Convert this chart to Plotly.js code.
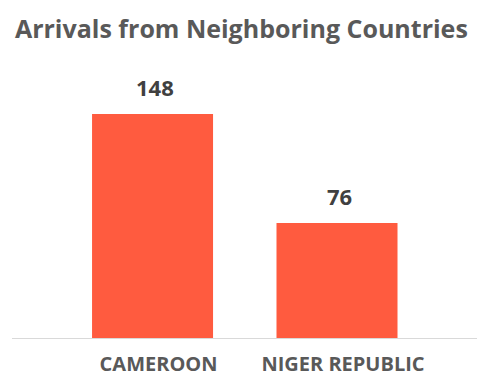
<!DOCTYPE html>
<html>
<head>
<meta charset="utf-8">
<script src="https://cdn.plot.ly/plotly-3.0.1.min.js"></script>
<style>html,body{margin:0;padding:0;background:#fff;}#chart{width:477px;height:379px;}</style>
</head>
<body>
<div id="chart"></div>
<script>
const categories = ["CAMEROON", "NIGER REPUBLIC"];
const arrivals = [148, 76];
const chartTitle = "Arrivals from Neighboring Countries";

const FONT = "'Open Sans', Lato, sans-serif";

const trace = {
  type: "bar",
  x: categories,
  y: arrivals,
  width: 0.656,
  marker: {color: "#FF5B3F"},
  hoverinfo: "x+y"
};

const annotations = categories.map((c, i) => ({
  x: c, y: arrivals[i], xref: "x", yref: "y",
  text: "<b>" + arrivals[i] + "</b>",
  showarrow: false, yanchor: "bottom", yshift: 10, xshift: 2,
  font: {family: FONT, size: 22, color: "#404040"}
}));

const layout = {
  width: 477, height: 379,
  margin: {l: 12, r: 0, t: 80, b: 41},
  paper_bgcolor: "#fff", plot_bgcolor: "#fff",
  showlegend: false,
  title: {
    text: "<b>" + chartTitle + "</b>",
    font: {family: FONT, size: 25, color: "#595959"},
    xref: "container", x: 0.506, xanchor: "center",
    yref: "container", y: 0.923, yanchor: "middle"
  },
  xaxis: {
    type: "category",
    range: [-0.762, 1.759],
    showline: true, linecolor: "#D9D9D9", linewidth: 1,
    ticks: "", showgrid: false, zeroline: false,
    tickfont: {family: FONT, size: 20, color: "#595959", weight: "bold"},
    ticklabelstandoff: 8,
    ticklabelshift: 6
  },
  yaxis: {
    range: [0, 170.4],
    visible: false, showgrid: false, zeroline: false
  },
  annotations: annotations
};

Plotly.newPlot("chart", [trace], layout, {staticPlot: true, displayModeBar: false});
</script>
</body>
</html>
